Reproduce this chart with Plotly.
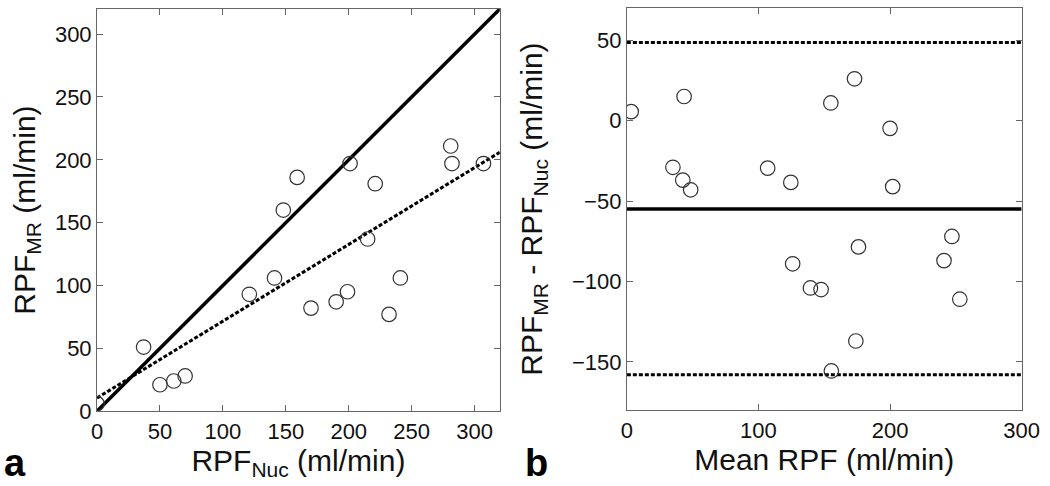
import plotly.graph_objects as go

# panel a: MR vs nuclear medicine RPF (ml/min)
rpf_nuc = [0, 37, 50, 61, 70, 121, 141, 148, 159, 170, 190, 199, 201, 215, 221, 232, 241, 281, 282, 307]
rpf_mr = [6, 51, 21, 24, 28, 93, 106, 160, 186, 82, 87, 95, 197, 137, 181, 77, 106, 211, 197, 197]

identity_x = [0, 320]
identity_y = [0, 320]
regress_x = [0, 320]
regress_y = [10.5, 206]

# panel b: Bland-Altman
mean_rpf = [3.3, 35, 42.5, 43.5, 48.5, 107, 124.6, 126, 139.5, 147.6,
            155, 155.4, 173, 174, 176, 200, 202, 241, 247, 253]
diff_rpf = [5.6, -29, -37, 15, -43, -29.5, -38.4, -89, -104, -105,
            11, -155.6, 26, -137, -78.5, -4.8, -41, -87, -72, -111]

ba_x = [0, 300]
mean_diff = -55
upper_loa = 48.5
lower_loa = -158

FONT = "Liberation Sans, Arial, sans-serif"
TITLE_FONT = dict(family=FONT, size=30, color="#111111")
marker = dict(symbol="circle-open", size=14.5, color="#333333", line=dict(width=1.2))

fig = go.Figure()

fig.add_trace(go.Scatter(x=identity_x, y=identity_y, mode="lines",
                         line=dict(color="black", width=3.5), xaxis="x", yaxis="y"))
fig.add_trace(go.Scatter(x=regress_x, y=regress_y, mode="lines",
                         line=dict(color="black", width=3, dash="4px,2px"), xaxis="x", yaxis="y"))
fig.add_trace(go.Scatter(x=rpf_nuc, y=rpf_mr, mode="markers", marker=marker,
                         xaxis="x", yaxis="y"))

fig.add_trace(go.Scatter(x=ba_x, y=[mean_diff] * 2, mode="lines",
                         line=dict(color="black", width=3.5), xaxis="x2", yaxis="y2"))
for lim in (upper_loa, lower_loa):
    fig.add_trace(go.Scatter(x=ba_x, y=[lim] * 2, mode="lines",
                             line=dict(color="black", width=3, dash="4px,2px"),
                             xaxis="x2", yaxis="y2"))
fig.add_trace(go.Scatter(x=mean_rpf, y=diff_rpf, mode="markers", marker=marker,
                         xaxis="x2", yaxis="y2"))

ax = dict(showgrid=False, zeroline=False, showline=True, linecolor="#666666", linewidth=1,
          mirror="ticks", ticks="inside", ticklen=6, tickcolor="#666666", automargin=False,
          tickfont=dict(family=FONT, size=22, color="#111111"))

fig.update_layout(
    width=1050, height=486,
    margin=dict(l=0, r=0, t=0, b=0),
    paper_bgcolor="white", plot_bgcolor="white",
    showlegend=False,
    xaxis=dict(ax, domain=[0.0924, 0.476], range=[0, 320], tickvals=[0, 50, 100, 150, 200, 250, 300],
               title=dict(text="RPF<sub>Nuc</sub> (ml/min)", standoff=6, font=TITLE_FONT), anchor="y"),
    yaxis=dict(ax, domain=[0.154, 0.9815], range=[0, 320], tickvals=[0, 50, 100, 150, 200, 250, 300],
               title=dict(text="RPF<sub>MR</sub> (ml/min)", standoff=10, font=TITLE_FONT), anchor="x"),
    xaxis2=dict(ax, domain=[0.597, 0.973], range=[0, 300], tickvals=[0, 100, 200, 300],
                title=dict(text="Mean RPF (ml/min)", standoff=6, font=TITLE_FONT), anchor="y2"),
    yaxis2=dict(ax, domain=[0.156, 0.9835], range=[-180, 70], tickvals=[-150, -100, -50, 0, 50],
                title=dict(text="RPF<sub>MR</sub> - RPF<sub>Nuc</sub> (ml/min)", standoff=20, font=TITLE_FONT),
                anchor="x2"),
)

for letter, xpos in (("a", 0.002), ("b", 0.498)):
    fig.add_annotation(text="<b>%s</b>" % letter, xref="paper", yref="paper",
                       x=xpos, y=0.0, xanchor="left", yanchor="bottom", showarrow=False,
                       font=dict(family=FONT, size=38, color="black"))

# page body has an 8px default margin; drop it so the figure sits at 0,0
fig.write_html("out.html", config={"displayModeBar": False},
               post_script="document.body.style.margin='0';")
